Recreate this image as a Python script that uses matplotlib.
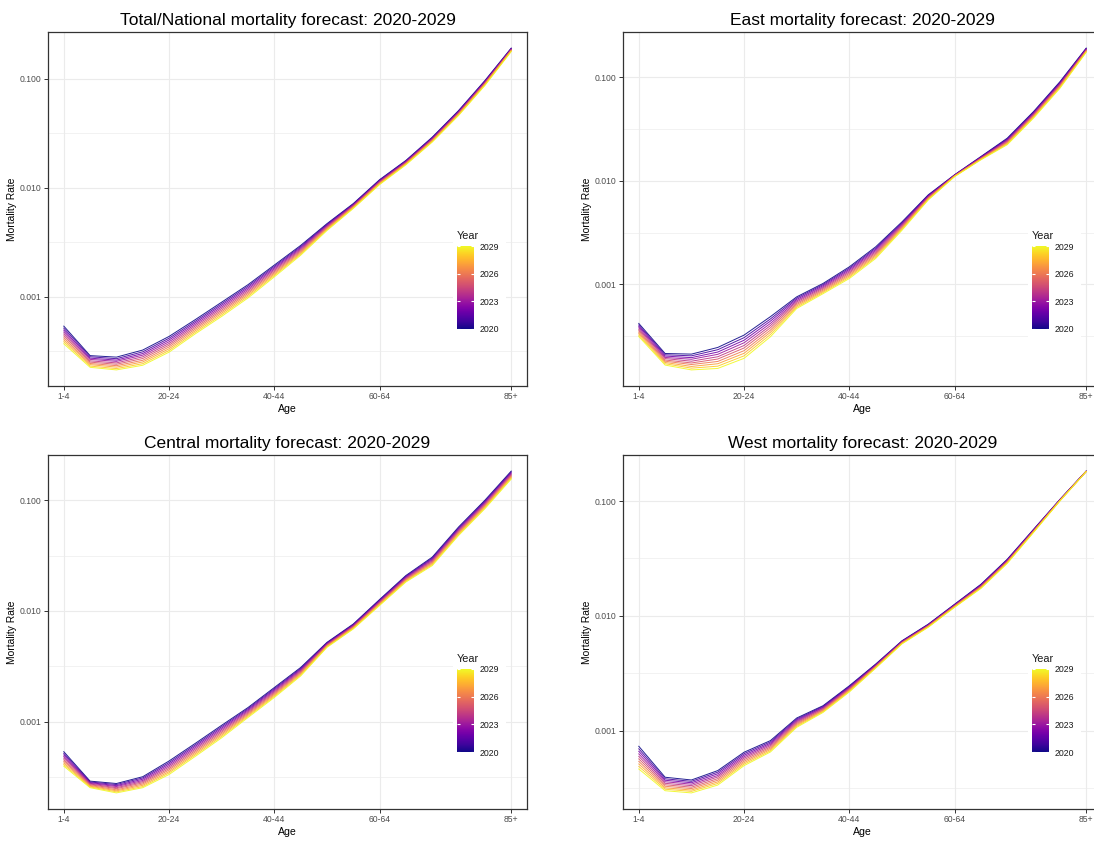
import numpy as np
import matplotlib.pyplot as plt
from matplotlib.colors import Normalize
from matplotlib.cm import ScalarMappable
from matplotlib.ticker import FixedLocator, NullFormatter

plt.rcParams['font.family'] = ['Liberation Sans', 'DejaVu Sans']

age_groups = ['1-4', '5-9', '10-14', '15-19', '20-24', '25-29', '30-34', '35-39',
              '40-44', '45-49', '50-54', '55-59', '60-64', '65-69', '70-74',
              '75-79', '80-84', '85+']
age_breaks = ['1-4', '20-24', '40-44', '60-64', '85+']
years = [2020, 2021, 2022, 2023, 2024, 2025, 2026, 2027, 2028, 2029]
year_breaks = [2020, 2023, 2026, 2029]

# forecast rates, one row per year (2020..2029), one column per age group
total_rates = [
    [0.000537, 0.000288, 0.000279, 0.000324, 0.000432, 0.000617, 0.000891, 0.001289, 0.001950, 0.002952, 0.004677, 0.007146, 0.01184, 0.01778, 0.02904, 0.05094, 0.09594, 0.1905],
    [0.000515, 0.000281, 0.000270, 0.000312, 0.000416, 0.000596, 0.000862, 0.001250, 0.001897, 0.002885, 0.004602, 0.007064, 0.01170, 0.01760, 0.02871, 0.05036, 0.09484, 0.1890],
    [0.000494, 0.000273, 0.000262, 0.000301, 0.000401, 0.000577, 0.000834, 0.001211, 0.001845, 0.002819, 0.004528, 0.006983, 0.01157, 0.01742, 0.02838, 0.04978, 0.09375, 0.1875],
    [0.000474, 0.000266, 0.000255, 0.000291, 0.000386, 0.000558, 0.000806, 0.001174, 0.001795, 0.002755, 0.004456, 0.006903, 0.01144, 0.01724, 0.02805, 0.04921, 0.09268, 0.1860],
    [0.000455, 0.000258, 0.000247, 0.000281, 0.000372, 0.000540, 0.000780, 0.001138, 0.001746, 0.002692, 0.004385, 0.006824, 0.01131, 0.01706, 0.02773, 0.04865, 0.09162, 0.1845],
    [0.000437, 0.000251, 0.000240, 0.000271, 0.000359, 0.000522, 0.000754, 0.001103, 0.001698, 0.002631, 0.004315, 0.006746, 0.01118, 0.01688, 0.02741, 0.04809, 0.09057, 0.1830],
    [0.000419, 0.000244, 0.000233, 0.000261, 0.000346, 0.000505, 0.000730, 0.001070, 0.001652, 0.002571, 0.004246, 0.006669, 0.01105, 0.01671, 0.02710, 0.04754, 0.08953, 0.1815],
    [0.000402, 0.000238, 0.000226, 0.000252, 0.000333, 0.000488, 0.000706, 0.001037, 0.001607, 0.002512, 0.004178, 0.006593, 0.01092, 0.01654, 0.02679, 0.04700, 0.08851, 0.1801],
    [0.000386, 0.000231, 0.000219, 0.000243, 0.000321, 0.000472, 0.000682, 0.001005, 0.001563, 0.002455, 0.004111, 0.006517, 0.01080, 0.01637, 0.02648, 0.04646, 0.08749, 0.1786],
    [0.000370, 0.000225, 0.000213, 0.000235, 0.000310, 0.000457, 0.000660, 0.000974, 0.001520, 0.002399, 0.004045, 0.006443, 0.01067, 0.01620, 0.02618, 0.04593, 0.08649, 0.1772],
]

east_rates = [
    [0.000421, 0.000216, 0.000213, 0.000247, 0.000325, 0.000489, 0.000760, 0.001023, 0.001480, 0.002307, 0.004018, 0.007329, 0.01144, 0.01714, 0.02577, 0.04656, 0.09017, 0.1905],
    [0.000407, 0.000210, 0.000205, 0.000235, 0.000307, 0.000465, 0.000739, 0.000998, 0.001438, 0.002242, 0.003936, 0.007237, 0.01139, 0.01700, 0.02536, 0.04582, 0.08873, 0.1885],
    [0.000395, 0.000204, 0.000197, 0.000223, 0.000290, 0.000443, 0.000718, 0.000973, 0.001397, 0.002178, 0.003855, 0.007146, 0.01134, 0.01687, 0.02495, 0.04508, 0.08731, 0.1866],
    [0.000382, 0.000198, 0.000190, 0.000212, 0.000274, 0.000421, 0.000697, 0.000948, 0.001358, 0.002116, 0.003776, 0.007056, 0.01128, 0.01673, 0.02455, 0.04436, 0.08591, 0.1847],
    [0.000370, 0.000193, 0.000182, 0.000201, 0.000258, 0.000401, 0.000678, 0.000925, 0.001319, 0.002056, 0.003698, 0.006967, 0.01123, 0.01660, 0.02416, 0.04365, 0.08454, 0.1828],
    [0.000358, 0.000187, 0.000175, 0.000191, 0.000244, 0.000382, 0.000658, 0.000902, 0.001282, 0.001998, 0.003623, 0.006880, 0.01118, 0.01646, 0.02378, 0.04295, 0.08319, 0.1809],
    [0.000347, 0.000182, 0.000169, 0.000181, 0.000230, 0.000363, 0.000640, 0.000879, 0.001245, 0.001941, 0.003548, 0.006793, 0.01113, 0.01633, 0.02340, 0.04227, 0.08186, 0.1790],
    [0.000336, 0.000177, 0.000162, 0.000172, 0.000217, 0.000346, 0.000622, 0.000857, 0.001210, 0.001886, 0.003475, 0.006708, 0.01108, 0.01620, 0.02302, 0.04159, 0.08055, 0.1772],
    [0.000325, 0.000172, 0.000156, 0.000163, 0.000205, 0.000329, 0.000604, 0.000836, 0.001176, 0.001833, 0.003404, 0.006623, 0.01103, 0.01607, 0.02265, 0.04093, 0.07926, 0.1753],
    [0.000315, 0.000167, 0.000150, 0.000155, 0.000194, 0.000313, 0.000587, 0.000815, 0.001142, 0.001781, 0.003334, 0.006540, 0.01098, 0.01594, 0.02229, 0.04027, 0.07799, 0.1735],
]

central_rates = [
    [0.000535, 0.000290, 0.000276, 0.000318, 0.000441, 0.000637, 0.000927, 0.001341, 0.002033, 0.003083, 0.005200, 0.007621, 0.01269, 0.02090, 0.03062, 0.05729, 0.1000, 0.1833],
    [0.000517, 0.000285, 0.000270, 0.000310, 0.000427, 0.000618, 0.000901, 0.001311, 0.001987, 0.003023, 0.005141, 0.007534, 0.01252, 0.02059, 0.03003, 0.05618, 0.09806, 0.1800],
    [0.000500, 0.000281, 0.000264, 0.000302, 0.000414, 0.000600, 0.000875, 0.001281, 0.001942, 0.002965, 0.005082, 0.007447, 0.01234, 0.02028, 0.02945, 0.05509, 0.09616, 0.1767],
    [0.000484, 0.000277, 0.000259, 0.000294, 0.000401, 0.000582, 0.000850, 0.001252, 0.001897, 0.002907, 0.005023, 0.007362, 0.01218, 0.01998, 0.02887, 0.05402, 0.09430, 0.1734],
    [0.000468, 0.000273, 0.000253, 0.000287, 0.000389, 0.000565, 0.000826, 0.001223, 0.001854, 0.002851, 0.004966, 0.007278, 0.01201, 0.01969, 0.02831, 0.05298, 0.09247, 0.1703],
    [0.000452, 0.000269, 0.000248, 0.000280, 0.000377, 0.000548, 0.000803, 0.001195, 0.001812, 0.002796, 0.004909, 0.007195, 0.01184, 0.01939, 0.02777, 0.05195, 0.09068, 0.1672],
    [0.000438, 0.000265, 0.000242, 0.000273, 0.000366, 0.000532, 0.000780, 0.001168, 0.001771, 0.002741, 0.004853, 0.007112, 0.01168, 0.01910, 0.02723, 0.05094, 0.08892, 0.1641],
    [0.000423, 0.000261, 0.000237, 0.000266, 0.000354, 0.000516, 0.000758, 0.001142, 0.001730, 0.002688, 0.004797, 0.007031, 0.01152, 0.01882, 0.02670, 0.04996, 0.08720, 0.1611],
    [0.000409, 0.000257, 0.000232, 0.000259, 0.000344, 0.000501, 0.000736, 0.001116, 0.001691, 0.002636, 0.004742, 0.006950, 0.01136, 0.01854, 0.02618, 0.04899, 0.08551, 0.1582],
    [0.000396, 0.000253, 0.000227, 0.000253, 0.000333, 0.000486, 0.000715, 0.001090, 0.001653, 0.002585, 0.004688, 0.006871, 0.01121, 0.01826, 0.02568, 0.04804, 0.08385, 0.1553],
]

west_rates = [
    [0.000731, 0.000393, 0.000372, 0.000449, 0.000649, 0.000819, 0.001289, 0.001649, 0.002461, 0.003802, 0.006068, 0.008473, 0.01263, 0.01884, 0.03112, 0.05676, 0.1033, 0.1824],
    [0.000695, 0.000381, 0.000362, 0.000435, 0.000630, 0.000798, 0.001263, 0.001625, 0.002427, 0.003767, 0.006026, 0.008415, 0.01254, 0.01867, 0.03084, 0.05637, 0.1029, 0.1822],
    [0.000661, 0.000370, 0.000352, 0.000421, 0.000611, 0.000778, 0.001237, 0.001600, 0.002394, 0.003733, 0.005985, 0.008357, 0.01246, 0.01850, 0.03055, 0.05598, 0.1026, 0.1820],
    [0.000628, 0.000359, 0.000342, 0.000407, 0.000593, 0.000759, 0.001211, 0.001577, 0.002361, 0.003698, 0.005943, 0.008299, 0.01237, 0.01833, 0.03027, 0.05560, 0.1022, 0.1818],
    [0.000597, 0.000348, 0.000332, 0.000395, 0.000576, 0.000740, 0.001187, 0.001553, 0.002329, 0.003664, 0.005903, 0.008242, 0.01229, 0.01816, 0.02999, 0.05521, 0.1019, 0.1816],
    [0.000568, 0.000338, 0.000322, 0.000382, 0.000559, 0.000721, 0.001162, 0.001530, 0.002297, 0.003631, 0.005862, 0.008185, 0.01220, 0.01799, 0.02972, 0.05483, 0.1015, 0.1813],
    [0.000540, 0.000328, 0.000313, 0.000370, 0.000542, 0.000703, 0.001138, 0.001507, 0.002265, 0.003598, 0.005821, 0.008129, 0.01212, 0.01783, 0.02945, 0.05445, 0.1012, 0.1811],
    [0.000513, 0.000318, 0.000304, 0.000358, 0.000526, 0.000686, 0.001115, 0.001485, 0.002234, 0.003565, 0.005781, 0.008073, 0.01203, 0.01766, 0.02918, 0.05408, 0.1008, 0.1809],
    [0.000488, 0.000309, 0.000296, 0.000347, 0.000511, 0.000668, 0.001092, 0.001463, 0.002203, 0.003532, 0.005741, 0.008017, 0.01195, 0.01750, 0.02891, 0.05371, 0.1005, 0.1807],
    [0.000464, 0.000300, 0.000287, 0.000336, 0.000496, 0.000652, 0.001070, 0.001441, 0.002173, 0.003500, 0.005702, 0.007962, 0.01187, 0.01734, 0.02864, 0.05334, 0.1001, 0.1805],
]

W, H = 1094, 841
fig = plt.figure(figsize=(W / 100, H / 100), dpi=100)


def px_box(left, top, right, bottom):
    '''pixel box -> figure fraction [x0, y0, w, h]'''
    return [left / W, 1 - bottom / H, (right - left) / W, (bottom - top) / H]


cmap = plt.get_cmap('plasma')
norm = Normalize(vmin=min(years), vmax=max(years))
grid_col = '#EBEBEB'
dark = '#333333'

panels = [
    ('Total/National mortality forecast: 2020-2029', total_rates, (48, 32)),
    ('East mortality forecast: 2020-2029', east_rates, (623, 32)),
    ('Central mortality forecast: 2020-2029', central_rates, (48, 455)),
    ('West mortality forecast: 2020-2029', west_rates, (623, 455)),
]

x = np.arange(len(age_groups))

for title, rates, (left, top) in panels:
    ax = fig.add_axes(px_box(left, top, left + 479, top + 354))

    for year, row in zip(years, rates):
        ax.plot(x, row, color=cmap(norm(year)), lw=0.7, alpha=0.9)

    ax.set_yscale('log')
    # 5% padding in log space, like ggplot
    lo = np.log10(min(min(r) for r in rates))
    hi = np.log10(max(max(r) for r in rates))
    pad = 0.05 * (hi - lo)
    ax.set_ylim(10 ** (lo - pad), 10 ** (hi + pad))
    ax.set_xlim(-0.6, len(age_groups) - 0.4)

    ax.yaxis.set_major_locator(FixedLocator([0.001, 0.01, 0.1]))
    ax.set_yticklabels(['0.001', '0.010', '0.100'])
    ax.yaxis.set_minor_locator(FixedLocator([10 ** -3.5, 10 ** -2.5, 10 ** -1.5, 10 ** -0.5]))
    ax.yaxis.set_minor_formatter(NullFormatter())
    ax.set_xticks([age_groups.index(b) for b in age_breaks])
    ax.set_xticklabels(age_breaks)

    ax.grid(which='major', color=grid_col, lw=0.8)
    ax.grid(which='minor', axis='y', color=grid_col, lw=0.45)
    ax.set_axisbelow(True)
    ax.tick_params(which='major', length=3, width=0.7, color=dark,
                   labelsize=6.2, labelcolor='#4D4D4D', pad=1.5)
    ax.tick_params(which='minor', length=0)
    for sp in ax.spines.values():
        sp.set_color(dark)
        sp.set_linewidth(0.9)

    ax.set_title(title, fontsize=12.5, pad=5)
    ax.set_xlabel('Age', fontsize=7.6, labelpad=2)
    ax.set_ylabel('Mortality Rate', fontsize=7.4, labelpad=2)

    # legend: white backing box + colour bar
    bg = fig.add_axes(px_box(left + 405, top + 196, left + 458, top + 306))
    bg.set_facecolor('white')
    bg.set_xticks([])
    bg.set_yticks([])
    for sp in bg.spines.values():
        sp.set_visible(False)

    cax = fig.add_axes(px_box(left + 409, top + 214, left + 426, top + 297))
    cb = fig.colorbar(ScalarMappable(norm=norm, cmap=cmap), cax=cax, ticks=year_breaks)
    cb.outline.set_visible(False)
    cax.tick_params(axis='y', direction='in', left=True, right=True, color='white',
                    length=2.5, width=0.8, labelsize=6.3, labelcolor='#1A1A1A', pad=4)
    fig.text((left + 409) / W, 1 - (top + 204) / H, 'Year', fontsize=7.8,
             ha='left', va='center', color='#1A1A1A')

fig.savefig('out.png', dpi=100)
